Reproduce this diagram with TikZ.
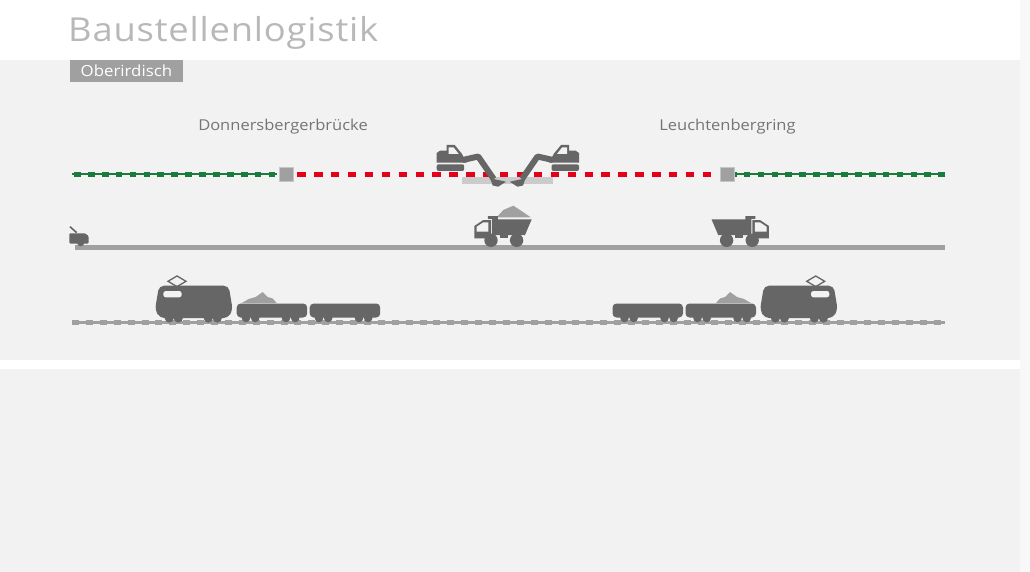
\documentclass[tikz,border=0pt]{standalone}
\usepackage{fontspec}
\setmainfont{Open Sans}[Ligatures=NoCommon, FakeStretch=1.1]
\newfontfamily\titlefont{Open Sans}[Ligatures=NoCommon, FakeStretch=1.1, LetterSpace=2.5]
\definecolor{bgGrey}{HTML}{F2F2F2}
\definecolor{edgeGrey}{HTML}{F8F8F8}
\definecolor{darkGrey}{HTML}{666666}
\definecolor{midGrey}{HTML}{A0A0A0}
\definecolor{dbRed}{HTML}{E2001A}
\definecolor{dbGreen}{HTML}{1B7A3D}
\tikzset{
	station/.style={draw=midGrey!60, fill=midGrey, line width=0.5pt, minimum size=14pt, inner sep=0pt},
	place/.style={text=darkGrey!90, font=\fontsize{15}{17}\selectfont},
	redline/.style={dbRed, line width=5pt, dash pattern=on 8.4pt off 8.5pt},
	greenthin/.style={dbGreen, line width=1.8pt},
	greendash/.style={dbGreen, line width=5pt, dash pattern=on 6.7pt off 7.2pt},
	trackthin/.style={midGrey, line width=2.2pt},
	trackdash/.style={midGrey, line width=5.5pt, dash pattern=on 7pt off 6.9pt},
	road/.style={midGrey, line width=4.7pt},
	digger/.pic={
		\fill[darkGrey, rounded corners=2pt] (0,23.3) rectangle (27.5,30);
		\fill[darkGrey] (0,21.7) -- (0,12) -- (3.3,9.7) -- (10,9.7) -- (10,4) -- (18,4) -- (25,12.5) -- (30,21.7) -- cycle;
		\fill[bgGrey] (12,6.5) -- (17,6.5) -- (22,13) -- (12,13) -- cycle;
		\draw[darkGrey, line width=6pt, line join=round] (26,19) -- (41.5,15.5) -- (57,38);
		\fill[darkGrey] (53.5,37.3) -- (69.3,40.7) -- (61.5,45.7) -- (56,44.5) -- cycle;
	},
	loco/.pic={
		\fill[darkGrey, rounded corners=5pt] (4,-37.3) -- (73.7,-37.3) -- (77.7,-13) -- (73,-4.8) -- (5,-4.8) -- (0,-13) -- cycle;
		\fill[bgGrey, rounded corners=2.5pt] (8.3,-32) rectangle (26.7,-25.7);
		\draw[darkGrey, line width=1.3pt] (22,-47) -- (31,-41.7) -- (22,-36.4) -- (13,-41.7) -- cycle;
		\foreach \wx in {14.3,23.3,53.3,62.3}
			\fill[darkGrey] (\wx,-5) circle (4.6pt);
	},
	wagon/.pic={
		\fill[darkGrey, rounded corners=4pt] (0,-19.5) rectangle (70.5,-5.5);
		\foreach \wx in {9.3,18.5,49.3,58.5}
			\fill[darkGrey] (\wx,-5) circle (4.3pt);
	},
	heap/.pic={
		\fill[midGrey] (5,-20) -- (12,-24) -- (19,-26) -- (26,-31) -- (31,-26) -- (36,-24.5) -- (40,-20) -- cycle;
	},
	lorry/.pic={
		\fill[darkGrey] (-29.5,-2) -- (-29.5,-14.3) -- (-20.5,-20.3) -- (-13,-20.3) -- (-13,-2) -- cycle;
		\fill[bgGrey] (-27.1,-13.6) -- (-20.5,-18) -- (-15.5,-18) -- (-15.5,-8.6) -- (-27.1,-8.6) -- cycle;
		\fill[darkGrey] (-16,-24.3) -- (-6,-24.3) -- (-6,-21) -- (27.9,-21) -- (21.2,-5.3) -- (-12,-5.3) -- (-12,-21.5) -- (-16,-21.5) -- cycle;
		\fill[darkGrey] (-3.5,-5.5) rectangle (4,-2.5);
		\foreach \wx in {-12.8,12.8}
			\fill[darkGrey] (\wx,0) circle (6.7pt);
	},
}
\begin{document}
\begin{tikzpicture}[x=1pt, y=-1pt]
	\useasboundingbox (0,0) rectangle (1030,572);
	% background bands
	\fill[white] (0,0) rectangle (1030,572);
	\fill[bgGrey] (0,60) rectangle (1020,360);
	\fill[bgGrey] (0,369) rectangle (1020,572);
	\fill[edgeGrey] (1020,0) rectangle (1030,572);

	% headings
	\node[anchor=base west, inner sep=0pt, text=midGrey!75, font=\titlefont\fontsize{33}{38}\selectfont] (title) at (68,42) {Baustellenlogistik};
	\node[anchor=north west, fill=midGrey, text=white, inner sep=0pt, minimum width=112.5pt, minimum height=22pt, font=\fontsize{15.3}{17}\selectfont] (tag) at (70,60) {Oberirdisch};
	\node[place] (labelL) at (283,126.5) {Donnersbergerbrücke};
	\node[place] (labelR) at (727.5,126.5) {Leuchtenbergring};

	% worksite line
	\fill[midGrey!55] (461.7,176.7) rectangle (553.3,183.7);
	\node[station] (stationL) at (286,174.3) {};
	\node[station] (stationR) at (727.5,174.3) {};
	\coordinate (greenL) at (72,174.3);
	\coordinate (greenR) at (945,174.3);
	\draw[greenthin, shorten >=2pt] (greenL) -- (stationL.west);
	\draw[greendash, shorten >=2pt] (74,174.3) -- (stationL.west);
	\draw[greenthin, shorten <=2pt] (stationR.east) -- (greenR);
	\draw[greendash] (945,174.3) -- (stationR.east);
	\draw[redline, shorten <=4pt, shorten >=4pt] (stationL.east) -- (stationR.west);
	\pic (diggerL) at (436.7,141) {digger};
	\pic[xscale=-1] (diggerR) at (579,141) {digger};

	% road
	\coordinate (roadL) at (74.7,247.7);
	\coordinate (roadR) at (945,247.7);
	\draw[road] (roadL) -- (roadR);
	\fill[darkGrey] (80.7,242.7) circle (3.6pt);
	\fill[darkGrey, rounded corners=1pt] (69.3,233.3) -- (85,233.3) -- (88.5,236) -- (88.5,243.5) -- (69.3,243.5) -- cycle;
	\draw[darkGrey, line width=1.6pt] (70,226.7) -- (76.7,232.7);
	\fill[midGrey] (496.7,217.3) -- (503.3,210) -- (513.3,205.7) -- (520,210) -- (530.7,217.3) -- cycle;
	\pic (lorryL) at (503.8,240.3) {lorry};
	\pic[xscale=-1] (lorryR) at (739.4,240.3) {lorry};

	% rail
	\coordinate (railL) at (72,322.5);
	\coordinate (railR) at (945,322.5);
	\draw[trackthin] (railL) -- (railR);
	\draw[trackdash] (railL) -- (railR);
	\pic (locoL) at (155,323) {loco};
	\pic (wagonLa) at (236.7,323) {wagon};
	\pic (wagonLb) at (309.7,323) {wagon};
	\pic at (236.7,323) {heap};
	\pic[xscale=-1] (locoR) at (837.7,323) {loco};
	\pic[xscale=-1] (wagonRa) at (756,323) {wagon};
	\pic[xscale=-1] (wagonRb) at (683,323) {wagon};
	\pic[xscale=-1] at (756,323) {heap};
\end{tikzpicture}
\end{document}
